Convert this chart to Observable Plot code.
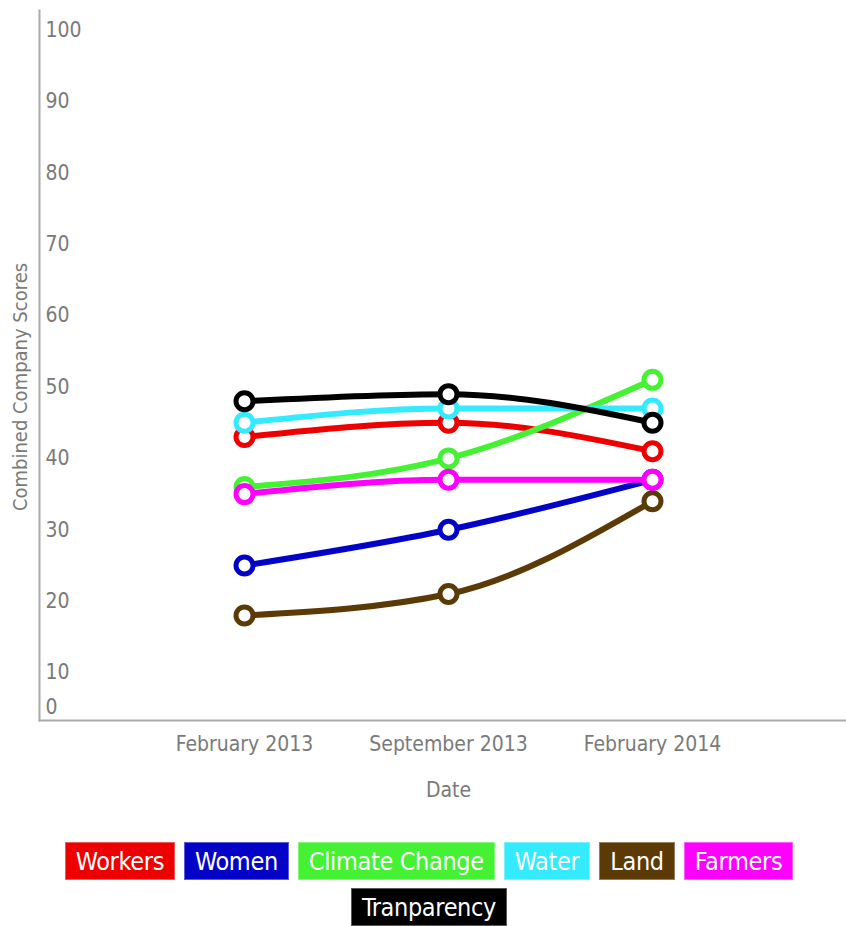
<!DOCTYPE html>
<html>
<head>
<meta charset="utf-8">
<script src="https://cdn.jsdelivr.net/npm/d3@7"></script>
<script src="https://cdn.jsdelivr.net/npm/@observablehq/plot@0.6"></script>
<style>
  body { margin: 0; background: #fff; font-family: "DejaVu Sans Condensed", sans-serif; }
  #chart svg { display: block; }
  #legend { width: 846px; text-align: center; padding-left: 12px; box-sizing: border-box; margin-top: 10px; font-size: 0; }
  .item { display: inline-block; height: 38px; line-height: 37px; padding: 0 10px; margin: 0 4.5px 8px; color: #fff; font-size: 25px; letter-spacing: -0.35px; box-sizing: border-box; border: 1px solid rgba(255,255,255,0.35); }
</style>
</head>
<body>
<div id="chart"></div>
<div id="legend"></div>
<script>
// Survey dates (x categories)
const dates = ["February 2013", "September 2013", "February 2014"];

// Issue areas and their colours, in drawing/legend order
const issues = ["Workers", "Women", "Climate Change", "Water", "Land", "Farmers", "Tranparency"];
const issueColors = ["#ee0000", "#0303c8", "#44f233", "#33eaff", "#5c3a06", "#ff00ff", "#000000"];

// Combined company scores per issue, one value per date
const workers = [43, 45, 41];
const women = [25, 30, 37];
const climateChange = [36, 40, 51];
const water = [45, 47, 47];
const land = [18, 21, 34];
const farmers = [35, 37, 37];
const transparency = [48, 49, 45];
const scores = [workers, women, climateChange, water, land, farmers, transparency];

// Y axis tick labels
const yTicks = [0, 10, 20, 30, 40, 50, 60, 70, 80, 90, 100];

const rows = issues.flatMap((issue, i) =>
  dates.map((date, j) => ({issue, date, score: scores[i][j]}))
);

const axisGray = "#aaaaaa";
const textGray = "#7a7a7a";
const font = "'DejaVu Sans Condensed', sans-serif";

// One line + its open circles per issue, so later issues sit on top
const seriesMarks = issues.flatMap((issue, i) => {
  const data = rows.filter(d => d.issue === issue);
  return [
    Plot.line(data, {x: "date", y: "score", stroke: issueColors[i], strokeWidth: 6, curve: "monotone-x"}),
    Plot.dot(data, {x: "date", y: "score", r: 8.5, fill: "white", stroke: issueColors[i], strokeWidth: 5})
  ];
});

const chart = Plot.plot({
  width: 846,
  height: 832,
  marginLeft: 39,
  marginRight: 0,
  marginTop: 10,
  marginBottom: 112,
  style: {fontFamily: font, background: "white"},
  x: {type: "point", domain: dates, range: [243, 652], padding: 0, axis: null},
  y: {domain: [0, 100], range: [743.5, 29.5], axis: null},
  marks: [
    Plot.frame({anchor: "left", stroke: axisGray, strokeWidth: 2}),
    Plot.frame({anchor: "bottom", stroke: axisGray, strokeWidth: 2}),
    // y tick labels drawn inside the axis line
    Plot.text(yTicks.filter(t => t > 0), {y: d => d, text: d => String(d), frameAnchor: "left", dx: 6, textAnchor: "start", fill: textGray, fontSize: 21}),
    Plot.text(yTicks.filter(t => t === 0), {y: d => d, text: d => String(d), frameAnchor: "left", dx: 6, dy: -37, textAnchor: "start", fill: textGray, fontSize: 21}),
    // x tick labels
    Plot.text(dates, {x: d => d, text: d => d, frameAnchor: "bottom", dy: 30, fill: textGray, fontSize: 21}),
    // axis titles
    Plot.text(["Date"], {x: () => dates[1], text: d => d, frameAnchor: "bottom", dy: 76, fill: textGray, fontSize: 21}),
    Plot.text(["Combined Company Scores"], {y: () => 50, text: d => d, frameAnchor: "left", textAnchor: "middle", dx: -19, rotate: -90, fill: textGray, fontSize: 20}),
    ...seriesMarks
  ]
});
document.getElementById("chart").append(chart);

// Colour-box legend below the chart
const legend = document.getElementById("legend");
issues.forEach((issue, i) => {
  const el = document.createElement("span");
  el.className = "item";
  el.style.background = issueColors[i];
  el.textContent = issue;
  legend.append(el);
});
</script>
</body>
</html>
